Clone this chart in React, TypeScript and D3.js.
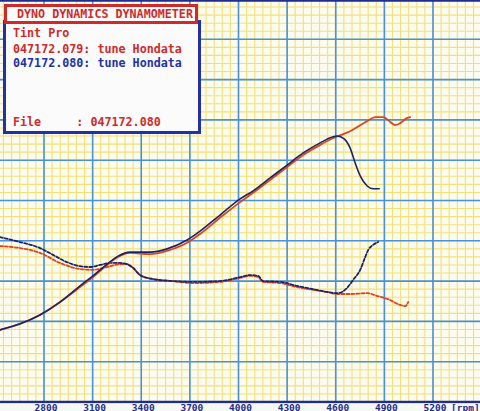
import React from 'react';
import * as d3 from 'd3';

// x axis ticks (rpm)
const rpmTicks = [2800, 3100, 3400, 3700, 4000, 4300, 4600, 4900, 5200];

// power, run 047172.079 (red)
const powerRedRpm = [2528, 2652, 2775, 2899, 3022, 3102, 3189, 3257, 3331, 3454, 3559, 3683, 3763, 3886, 4010, 4090, 4195, 4300, 4399, 4504, 4584, 4689, 4794, 4843, 4893, 4936, 4967, 4998, 5041, 5059];
const powerRedVal = [17.9, 19.4, 21.6, 24.8, 28.5, 31.0, 34.0, 36.0, 37.0, 36.7, 37.5, 39.5, 41.7, 45.7, 49.6, 51.9, 55.1, 58.3, 61.3, 63.8, 65.5, 67.2, 69.7, 70.7, 70.7, 69.5, 68.7, 69.2, 70.5, 70.7];

// power, run 047172.080 (blue)
const powerBlueRpm = [2528, 2652, 2775, 2899, 3022, 3102, 3189, 3257, 3331, 3454, 3559, 3683, 3763, 3886, 4010, 4090, 4195, 4300, 4399, 4504, 4584, 4609, 4652, 4689, 4720, 4751, 4794, 4831, 4868];
const powerBlueVal = [17.9, 19.4, 21.6, 24.8, 28.8, 31.3, 34.2, 36.2, 37.2, 37.2, 38.0, 40.2, 42.4, 46.4, 50.4, 52.4, 55.6, 58.8, 61.8, 64.3, 65.8, 66.0, 65.3, 63.0, 59.3, 56.1, 53.6, 52.9, 52.9];

// tractive effort / torque (dashed)
const torqueRedRpm = [2528, 2652, 2775, 2899, 3022, 3102, 3189, 3269, 3312, 3349, 3393, 3473, 3596, 3720, 3886, 4010, 4072, 4121, 4152, 4257, 4362, 4461, 4547, 4609, 4689, 4794, 4856, 4917, 4998, 5028, 5047];
const torqueRedVal = [38.7, 38.2, 37.0, 34.5, 33.0, 32.8, 33.5, 34.2, 34.2, 33.3, 31.5, 30.5, 30.0, 29.5, 29.8, 30.8, 31.3, 31.0, 29.8, 29.5, 28.5, 27.8, 27.3, 26.8, 26.8, 27.0, 26.3, 25.6, 24.1, 23.8, 24.8];

const torqueBlueRpm = [2528, 2652, 2775, 2856, 2942, 3022, 3084, 3146, 3207, 3269, 3312, 3349, 3393, 3473, 3596, 3720, 3886, 4010, 4072, 4121, 4152, 4257, 4362, 4461, 4547, 4609, 4670, 4707, 4751, 4782, 4800, 4831, 4862];
const torqueBlueVal = [40.9, 39.7, 38.2, 36.5, 34.7, 33.7, 33.5, 34.0, 34.5, 34.5, 34.2, 33.3, 31.5, 30.5, 30.0, 29.8, 30.0, 31.0, 31.5, 31.3, 30.0, 29.8, 28.8, 28.0, 27.3, 27.0, 28.3, 30.3, 32.8, 36.0, 37.7, 39.0, 39.7];

const legendLines = ['Tint Pro', '047172.079: tune Hondata', '047172.080: tune Hondata'];
const fileLine = 'File     : 047172.080';

const W = 480;
const H = 411;
const RED = '#e0431f';
const BLUE = '#1b2368';
const MONO = '"DejaVu Sans Mono", "Liberation Mono", monospace';

function App() {
  const x = d3.scaleLinear().domain([2800, 5200]).range([44, 433]);
  const y = d3.scaleLinear().domain([0, 100]).range([402, -1]);

  const line = d3.line<[number, number]>()
    .x(d => x(d[0]))
    .y(d => y(d[1]))
    .curve(d3.curveMonotoneX);

  const zip = (a: number[], b: number[]) => a.map((v, i) => [v, b[i]] as [number, number]);

  const minorX = d3.range(2500, 5550, 50);
  const majorX = d3.range(2500, 5550, 300);
  const minorY = d3.range(0, 101, 2);
  const majorY = d3.range(0, 101, 10);

  return (
    <svg width={W} height={H} style={{ position: 'fixed', left: 0, top: 0, background: '#fbfaee' }}>
      <rect x={0} y={0} width={W} height={H} fill="#fcfbef" />

      {/* minor yellow grid */}
      <g stroke="#efd84e" strokeWidth={1.1} opacity={0.72}>
        {minorX.map(v => <line key={'mx' + v} x1={x(v)} x2={x(v)} y1={0} y2={402} />)}
        {minorY.map(v => <line key={'my' + v} x1={0} x2={W} y1={y(v)} y2={y(v)} />)}
      </g>
      {/* major blue grid */}
      <g stroke="#4a92d8" strokeWidth={1.6}>
        {majorX.map(v => <line key={'Mx' + v} x1={x(v)} x2={x(v)} y1={0} y2={402} />)}
        {majorY.map(v => <line key={'My' + v} x1={0} x2={W} y1={y(v)} y2={y(v)} />)}
      </g>
      <line x1={0} x2={W} y1={0.8} y2={0.8} stroke="#1f2d8c" strokeWidth={2} />
      <line x1={0} x2={W} y1={402} y2={402} stroke="#1f2d8c" strokeWidth={2.5} />
      <rect x={0} y={403.5} width={W} height={8} fill="#f7f7f4" />

      {/* x tick labels */}
      <g fontFamily={MONO} fontWeight="bold" fontSize={9.5} fill="#1f2d8c">
        {rpmTicks.map(t => (
          <text key={t} x={x(t) + 2} y={410.5} textAnchor="middle">{t}</text>
        ))}
        <text x={451} y={410.5}>[rpm]</text>
      </g>

      {/* curves */}
      <g fill="none" strokeLinecap="round" strokeLinejoin="round">
        <path d={line(zip(torqueRedRpm, torqueRedVal)) || ''} stroke={RED} strokeWidth={1.8} strokeDasharray="3 2" />
        <path d={line(zip(torqueBlueRpm, torqueBlueVal)) || ''} stroke={BLUE} strokeWidth={1.8} strokeDasharray="3 2" />
        <path d={line(zip(powerRedRpm, powerRedVal)) || ''} stroke={RED} strokeWidth={1.8} />
        <path d={line(zip(powerBlueRpm, powerBlueVal)) || ''} stroke={BLUE} strokeWidth={1.6} />
      </g>

      {/* legend */}
      <rect x={4.5} y={21.5} width={195} height={111} fill="#fbfbfb" stroke="#2232a6" strokeWidth={3} />
      <rect x={5.5} y={5.5} width={191} height={17} fill="#fbfbfb" stroke="#cf2a2a" strokeWidth={3} />
      <g fontFamily={MONO} fontWeight="bold" fontSize={11.7} style={{ whiteSpace: 'pre' }}>
        <text x={17} y={18} fill="#cf2a2a">DYNO DYNAMICS DYNAMOMETER</text>
        <text x={13} y={37} fill="#cf2a2a">{legendLines[0]}</text>
        <text x={13} y={53} fill="#cf2a2a">{legendLines[1]}</text>
        <text x={13} y={67} fill="#2232a6">{legendLines[2]}</text>
        <text x={13} y={126} fill="#cf2a2a" xmlSpace="preserve">{fileLine}</text>
      </g>
    </svg>
  );
}

export default App;
